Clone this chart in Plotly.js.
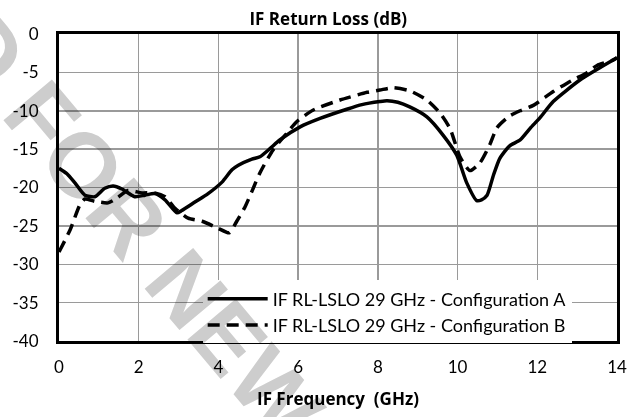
<!DOCTYPE html>
<html>
<head>
<meta charset="utf-8">
<script src="https://cdn.plot.ly/plotly-3.0.1.min.js"></script>
<style>
  html, body { margin: 0; padding: 0; background: #fff; }
  #wrap { position: relative; width: 640px; height: 417px; overflow: hidden; }
  #chart { width: 640px; height: 417px; }
  .wm { position: absolute; font-family: "Liberation Sans", Arial, sans-serif; font-weight: bold;
        font-size: 92px; line-height: 100px; height: 100px; white-space: nowrap; color: #cdcdcd;
        transform-origin: 0 50%; pointer-events: none; mix-blend-mode: multiply; }
</style>
</head>
<body>
<div id="wrap">
  <div id="chart"></div>
  <div class="wm" id="wm1">FOR NEW DESIGNS</div>
  <div class="wm" id="wm2">NOT RECOMMENDED&nbsp;</div>
</div>
<script>
// Frequency (GHz) and return loss (dB)
const freqA = [0, 0.2, 0.4, 0.65, 0.9, 1.15, 1.36, 1.58, 1.9, 2.16, 2.4, 2.66, 2.96, 3.08, 3.41, 3.74, 4.09, 4.34, 4.5, 4.84, 5.04, 5.3, 5.54, 6.05, 6.55, 7.22, 7.6, 8.05, 8.23, 8.5, 8.8, 9.23, 9.64, 9.98, 10.23, 10.48, 10.6, 10.74, 10.9, 11.06, 11.3, 11.57, 11.82, 12.07, 12.4, 13.07, 13.57, 14];
const rlA   = [-17.5, -18.2, -19.4, -21.0, -21.2, -20.1, -19.8, -20.2, -21.2, -21.0, -20.8, -21.6, -23.3, -23.0, -21.9, -20.8, -19.3, -17.7, -17.1, -16.3, -16.0, -14.9, -13.8, -12.1, -11.0, -9.8, -9.2, -8.8, -8.7, -8.9, -9.5, -10.8, -13.2, -15.8, -19.4, -21.7, -21.6, -21.0, -18.4, -16.2, -14.6, -13.8, -12.3, -10.9, -8.8, -6.0, -4.4, -3.1];
const freqB = [0, 0.28, 0.53, 0.65, 0.9, 1.23, 1.45, 1.73, 2.08, 2.4, 2.66, 2.91, 3.24, 3.59, 3.99, 4.27, 4.46, 4.67, 4.84, 5.04, 5.37, 5.72, 5.97, 6.38, 7.05, 7.73, 8.05, 8.38, 8.8, 9.23, 9.56, 9.81, 10.06, 10.31, 10.56, 10.81, 10.99, 11.3, 11.57, 11.9, 12.4, 12.85, 13.23, 13.5, 13.9, 14];
const rlB   = [-28.4, -25.5, -22.2, -21.5, -21.8, -22.0, -21.4, -20.4, -20.7, -20.7, -21.2, -22.7, -24.0, -24.4, -25.3, -25.9, -24.4, -22.5, -20.5, -18.1, -15.1, -12.9, -11.4, -9.9, -8.6, -7.6, -7.3, -7.0, -7.4, -8.6, -10.3, -12.3, -16.0, -17.8, -16.8, -14.4, -12.2, -10.7, -10.0, -9.3, -7.5, -6.1, -5.1, -4.1, -3.4, -3.1];
const seriesNames = ["IF RL-LSLO 29 GHz - Configuration A", "IF RL-LSLO 29 GHz - Configuration B"];
const xTicks = [0, 2, 4, 6, 8, 10, 12, 14];
const yTicks = [0, -5, -10, -15, -20, -25, -30, -35, -40];

const FONT = "Lato, 'Open Sans', sans-serif";
const TFONT = "'Open Sans', Lato, sans-serif";
const traces = [
  { x: freqA, y: rlA, name: seriesNames[0], mode: "lines", type: "scatter",
    line: { color: "#000", width: 3.5, shape: "spline", smoothing: 0.6 } },
  { x: freqB, y: rlB, name: seriesNames[1], mode: "lines", type: "scatter",
    line: { color: "#000", width: 3.5, dash: "12px,7px", shape: "spline", smoothing: 0.6 } }
];
const layout = {
  width: 640, height: 417,
  margin: { l: 59, r: 23, t: 34, b: 76 },
  paper_bgcolor: "rgba(0,0,0,0)", plot_bgcolor: "rgba(0,0,0,0)",
  font: { family: FONT, size: 16, color: "#000" },
  title: { text: "<b>IF Return Loss (dB)</b>", font: { family: TFONT, size: 17, color: "#000" },
           x: 0.513, xanchor: "center", y: 0.955, yanchor: "middle" },
  showlegend: true,
  legend: { x: 0.2575, xanchor: "left", y: -0.008, yanchor: "bottom", bgcolor: "#fff",
            font: { family: FONT, size: 18, color: "#000" }, tracegroupgap: 0, itemwidth: 60 },
  xaxis: { range: [0, 14], tickvals: xTicks, ticktext: xTicks.map(String),
           showgrid: true, gridcolor: "#9a9a9a", gridwidth: 1.5,
           showline: true, linecolor: "#000", linewidth: 3, mirror: true,
           ticks: "outside", ticklen: 9, tickcolor: "rgba(0,0,0,0)", zeroline: false,
           tickfont: { family: FONT, size: 17, color: "#000" },
           title: { text: "<b>IF Frequency  (GHz)</b>", font: { family: TFONT, size: 17, color: "#000" }, standoff: 17 } },
  yaxis: { range: [-40, 0], tickvals: yTicks, ticktext: yTicks.map(String),
           showgrid: true, gridcolor: "#9a9a9a", gridwidth: 1.5,
           showline: true, linecolor: "#000", linewidth: 3, mirror: true,
           ticks: "outside", ticklen: 14, tickcolor: "rgba(0,0,0,0)", zeroline: false,
           tickfont: { family: FONT, size: 17, color: "#000" } }
};
Plotly.newPlot("chart", traces, layout, { displayModeBar: false, staticPlot: true });

// watermark, anchored at the left edge of "FOR"
const ax = 24, ay = 95, ang = 50;
const w1 = document.getElementById("wm1"), w2 = document.getElementById("wm2");
[w1, w2].forEach(w => { w.style.left = ax + "px"; w.style.top = (ay - 50) + "px"; });
w1.style.transform = "rotate(" + ang + "deg)";
w2.style.transform = "rotate(" + ang + "deg) translateX(-100%)";
</script>
</body>
</html>
